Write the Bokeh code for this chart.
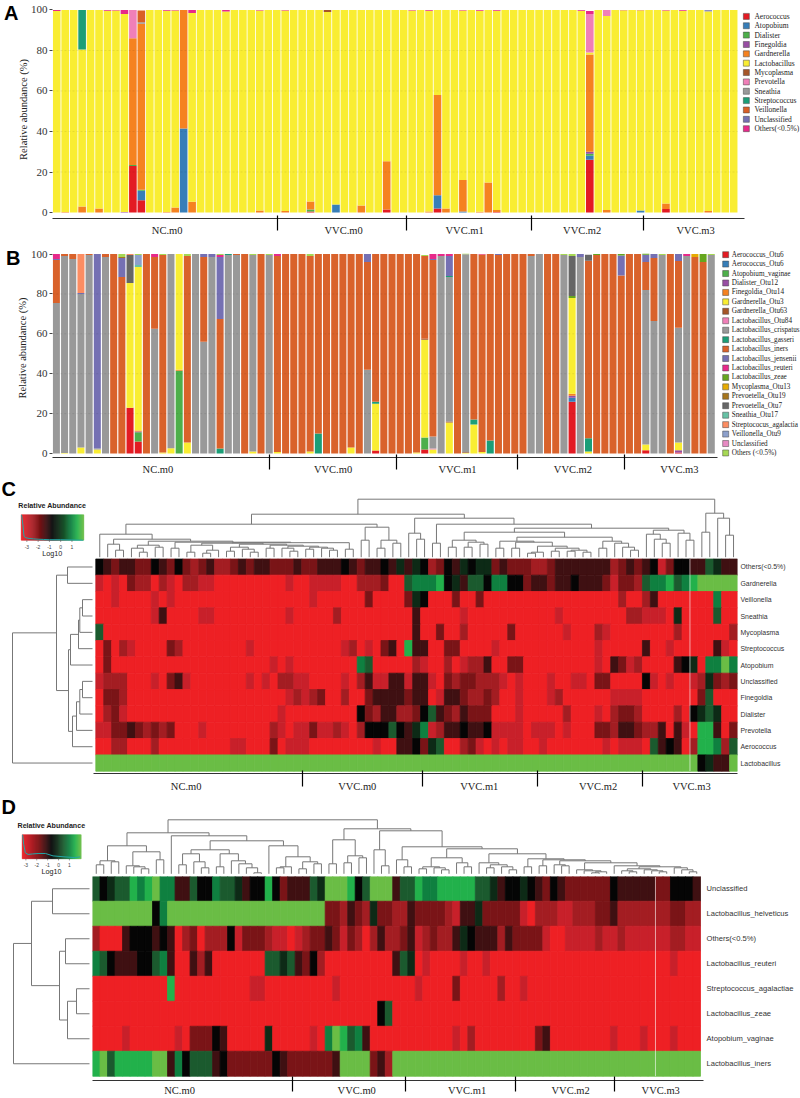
from bokeh.plotting import figure
from bokeh.layouts import column, row
from bokeh.models import (ColumnDataSource, FixedTicker, Label, LinearAxis, LinearColorMapper, Range1d)
from bokeh.core.properties import value
from bokeh.transform import transform
from bokeh.embed import file_html
from bokeh.resources import INLINE

N = 81
SERIF = "Liberation Serif"
SANS = "Liberation Sans"
groups = ["NC.m0", "VVC.m0", "VVC.m1", "VVC.m2", "VVC.m3"]
y_ticks = [0, 20, 40, 60, 80, 100]

# ---------- Panel A: genus level stacked bars (sparse: sample -> %)
a_names = ["Aerococcus", "Atopobium", "Dialister", "Finegoldia", "Gardnerella", "Lactobacillus", "Mycoplasma",
           "Prevotella", "Sneathia", "Streptococcus", "Veillonella", "Unclassified", "Others(<0.5%)"]
a_colors = ["#E31B23", "#377EB8", "#4DAF4A", "#984EA3", "#F58220", "#F9ED32", "#A65628", "#F07FB8", "#999999",
            "#1B9E77", "#D95F26", "#7570B3", "#E7298A"]
a_aerococcus = {9: 23, 10: 6, 30: .5, 39: 1.5, 45: 2, 52: .3, 63: 26, 72: 1.7}
a_atopobium = {10: 4.7, 15: 41.5, 33: 4, 45: 6.5, 48: .5, 63: 2, 69: 1}
a_dialister = {9: .4, 10: .5, 30: 1, 63: 1}
a_finegoldia = {8: .3, 63: 1}
a_gardnerella = {1: .3, 3: 3, 5: 2, 9: 62.6, 10: 82, 13: .3, 14: 2.5, 15: 58.5, 16: 5.3, 24: 1, 27: .8, 30: 4, 36: 3.5,
                 39: 23.8, 44: .5, 45: 49.5, 46: 2, 48: 15.5, 50: .4, 51: 14.8, 52: 1, 63: 48, 65: 1.3, 72: 2.8, 77: .8}
a_lactobacillus = [99.5, 99.7, 100, 77.5, 100, 98, 99.6, 99.7, 97.7, 0, 0, 100, 100, 99.3, 97.2, 0, 93.2, 100, 100, 100,
                   99.3, 100, 100, 100, 98.7, 100, 100, 98.9, 100, 100, 94.5, 100, 99, 96, 100, 100, 96.5, 100, 100, 74.7,
                   100, 100, 99.7, 100, 99.1, 42, 98, 100, 83.7, 100, 99.2, 85.2, 98.3, 100, 100, 100, 100, 100, 100, 100,
                   100, 100, 99.6, 1, 100, 95.7, 100, 99.8, 100, 98.8, 100, 100, 95.2, 100, 99.6, 100, 100, 98.4, 100, 100, 100]
a_mycoplasma = {32: 1}
a_prevotella = {9: 14, 63: 19, 65: 3}
a_sneathia = {10: .7, 77: .4}
a_streptococcus = {3: 19.5}
a_veillonella = {10: 5.8}
a_unclassified = {77: .4}
a_others = {0: .5, 6: .4, 7: .3, 8: 2, 13: .4, 14: .3, 16: 1.5, 20: .7, 24: .3, 27: .3, 42: .3, 44: .4, 48: .3, 50: .4,
            52: .4, 62: .4, 63: 1.5, 67: .2, 69: .2, 72: .3, 74: .4}

# ---------- Panel B: OTU level stacked bars
b_names = ["Aerococcus_Otu6", "Aerococcus_Otu6", "Atopobium_vaginae", "Dialister_Otu12", "Finegoldia_Otu14",
           "Gardnerella_Otu3", "Gardnerella_Otu63", "Lactobacillus_Otu84", "Lactobacillus_crispatus",
           "Lactobacillus_gasseri", "Lactobacillus_iners", "Lactobacillus_jensenii", "Lactobacillus_reuteri",
           "Lactobacillus_zeae", "Mycoplasma_Otu13", "Prevoetella_Otu19", "Prevoetella_Otu7", "Sneathia_Otu17",
           "Streptococus_agalactia", "Veillonella_Otu9", "Unclassified", "Others (<0.5%)"]
b_colors = ["#E31B23", "#377EB8", "#4DAF4A", "#984EA3", "#F58220", "#F9ED32", "#A65628", "#F07FB8", "#999999", "#1B9E77",
            "#D9622B", "#7570B3", "#E7298A", "#66A61E", "#E6AB02", "#A6761D", "#666666", "#66C2A5", "#FC8D62", "#8DA0CB",
            "#E78AC3", "#A6D854"]
b_aero1 = {9: 23, 10: 6, 39: 1.5, 45: 2, 63: 26, 72: 1.7, 76: .5}
b_aero2 = {63: 2}
b_atopobium = {10: 4.7, 15: 41.5, 45: 6}
b_dialister = {10: .3, 63: 1, 76: 1.2}
b_finegoldia = {10: .5, 15: .5, 63: 1}
b_gard3 = {1: .3, 3: 3, 5: 2, 9: 62.5, 10: 82, 13: .5, 14: 2.7, 15: 58, 16: 5.5, 24: 1, 27: .8, 31: 1, 36: 3, 39: 23.5,
           44: .5, 45: 49, 46: 2, 48: 15.5, 50: .3, 51: 14.5, 52: .8, 63: 48, 65: 1, 72: 2.8, 76: 3.8}
b_gard63 = {45: .5, 48: .5, 50: .4}
b_l84 = {46: .5}
b_crispatus = [75.5, 98.7, 97.5, 77, 99.5, .5, 98.5, 0, 0, 0, 0, 0, 62.5, 0, 97.3, 0, 0, 100, 56, 98.5, 0, 99.5, 99.5, 0,
               98.5, 0, 99.5, 0, 0, 0, 0, 0, 0, 0, 0, 0, 0, 0, 42, 0, 0, 0, 0, 0, 0, 0, 6, 99, 72.5, 0, 99.2, 0, 0, 0, 0, 0,
               0, 0, 99, 100, 0, 0, 99.5, 0, 98.5, 0, 0, 0, 0, 0, 0, 0, 77.5, 66.5, 99.5, 0, 57.5, 99, 0, 0, 99.5]
b_gasseri = {20: 2.5, 21: .5, 32: 10, 39: 1, 48: .5, 51: 2.5, 53: 6.5, 65: 6.7}
b_iners = [21.5, 1, 2.5, 0, .5, 0, 1.5, 100, 88.5, 0, 0, 100, 36, 99, 0, 0, 93.5, 0, 42.5, 0, 65, 0, .5, 100, 0, 100, 0,
           98.2, 100, 100, 100, 98, 90, 100, 100, 100, 97, 100, 54, 74, 100, 100, 100, 100, 99.5, 41.5, 88.5, 0, 0, 100,
           0, 83, 99, 93.5, 99.5, 100, 100, 100, 1, 0, 100, 100, 0, 0, 0, 89, 99.5, 100, 100, 89.3, 100, 100, 14, 31.5,
           0, 100, 33.5, 0, 98.5, 96, 0]
b_jensenii = {0: .5, 3: .5, 5: 97.5, 8: 9.5, 18: 1.5, 19: 1.5, 20: 31, 38: 4, 46: .5, 48: 10, 54: .5, 64: 1.5, 69: 10,
              72: 3.7, 73: 2, 76: 3.5}
b_reuteri = {0: 2.5, 12: 1.5, 20: 1, 27: 1, 46: 2.5, 47: 1, 48: 1, 52: .2, 77: 1}
b_zeae = {63: 1, 66: .5, 69: .7, 72: .5, 79: 4}
b_myco = {78: 1.5}
b_prev19 = {8: .5}
b_prev7 = {9: 14, 63: 20, 65: 3}
b_sneathia = {10: 1}
b_strep = {3: 19.5, 9: .5}
b_veillonella = {10: 5}
b_unclass = {}
b_others = {8: 1.5, 10: .5, 13: .5, 16: 1, 20: .5, 24: .5, 26: .5, 31: 1, 45: .5, 50: .3, 62: .5, 63: 1, 74: .5, 80: .5}

# ---------- Panel C heat map: colour levels 0 (red) .. 5 (black) .. 10 (green); sparse, sample -> level
level_colors = ["#EE2024", "#C8202A", "#A31D22", "#7A1417", "#3F1012", "#050505", "#0D2A16", "#1B5A2E", "#0F8040",
                "#22B14B", "#6ABD45"]
c_rows = ["Others(<0.5%)", "Gardnerella", "Veillonella", "Sneathia", "Mycoplasma", "Streptococcus", "Atopobium",
          "Unclassified", "Finegoldia", "Dialister", "Prevotella", "Aerococcus", "Lactobacillus"]
c_others = [5, 4, 3, 4, 4, 3, 3, 5, 4, 3, 5, 3, 2, 3, 4, 2, 2, 3, 4, 3, 4, 4, 3, 3, 3, 4, 3, 3, 4, 4, 4, 5, 4, 3, 4, 4, 5, 4, 6,
            4, 6, 5, 2, 3, 5, 4, 6, 5, 6, 6, 3, 4, 3, 3, 3, 2, 2, 3, 4, 4, 4, 4, 4, 4, 4, 2, 3, 4, 3, 4, 5, 1, 3, 5, 5, 4, 4, 7, 6, 4, 4]
c_gardnerella = [1, 0, 1, 0, 3, 2, 2, 0, 2, 1, 0, 2, 2, 1, 1, 0, 0, 0, 0, 0, 0, 0, 0, 0, 1, 0, 0, 1, 1, 1, 1, 0, 0, 2, 2, 2, 3, 0, 0,
                 7, 8, 8, 8, 9, 5, 6, 4, 7, 7, 5, 8, 8, 5, 5, 3, 4, 4, 3, 4, 4, 5, 4, 4, 4, 3, 1, 3, 3, 2, 7, 8, 8, 9, 7, 8, 9, 10, 10, 10, 10, 10]
c_veillonella = {2: 1, 7: 1, 9: 1, 27: 1, 34: 3, 39: 3, 40: 6, 41: 5, 45: 3, 48: 3, 66: 2, 69: 2, 70: 4, 78: 8}
c_sneathia = {7: 1, 8: 4, 13: 1, 14: 1, 24: 1, 30: 2, 40: 4, 46: 1, 58: 1, 67: 2, 68: 2, 69: 1, 70: 1, 71: 1, 73: 6, 78: 7}
c_mycoplasma = {0: 7, 40: 4, 43: 3, 46: 2, 52: 3, 59: 1, 63: 2, 64: 1, 73: 2, 80: 2}
c_streptococcus = {1: 3, 3: 2, 4: 1, 9: 3, 10: 2, 19: 1, 31: 1, 32: 2, 34: 1, 36: 3, 37: 4, 39: 9, 40: 4, 41: 4, 44: 3, 45: 3,
                   50: 1, 63: 1, 69: 4, 72: 1, 78: 4, 79: 1}
c_atopobium = {1: 3, 22: 1, 24: 1, 33: 8, 34: 7, 40: 2, 41: 1, 44: 2, 46: 1, 47: 2, 48: 2, 49: 4, 52: 3, 53: 3, 63: 1, 65: 4,
               66: 3, 67: 1, 68: 2, 73: 4, 74: 5, 75: 6, 77: 8, 78: 8, 79: 10, 80: 8}
c_unclassified = {0: 1, 1: 2, 2: 2, 3: 2, 7: 1, 9: 3, 10: 4, 11: 1, 19: 1, 21: 1, 23: 2, 24: 2, 25: 1, 26: 1, 31: 1, 33: 2,
                  34: 4, 35: 1, 36: 1, 37: 4, 38: 4, 39: 1, 40: 4, 41: 4, 42: 1, 44: 3, 45: 2, 46: 3, 47: 3, 48: 2, 49: 2,
                  50: 2, 51: 1, 53: 1, 57: 1, 60: 1, 61: 1, 63: 3, 64: 3, 69: 5, 70: 1, 72: 1, 75: 1, 76: 2, 77: 6, 78: 3,
                  79: 2, 80: 3}
c_finegoldia = {1: 3, 2: 3, 3: 2, 24: 1, 25: 2, 26: 1, 27: 2, 28: 3, 31: 2, 34: 3, 35: 4, 36: 4, 37: 4, 38: 4, 39: 3, 40: 4,
                41: 4, 43: 1, 44: 4, 45: 4, 46: 3, 47: 2, 48: 2, 49: 3, 50: 2, 53: 1, 57: 1, 58: 2, 65: 1, 66: 1, 67: 1,
                68: 1, 76: 3, 77: 7}
c_dialister = {1: 2, 2: 3, 3: 1, 23: 1, 33: 5, 34: 3, 35: 2, 36: 4, 37: 4, 38: 2, 39: 2, 40: 3, 41: 5, 42: 7, 43: 4, 44: 3,
               45: 2, 46: 4, 47: 3, 48: 3, 49: 3, 53: 1, 59: 2, 63: 1, 65: 2, 66: 3, 67: 3, 68: 2, 73: 2, 75: 5, 76: 6,
               77: 7, 78: 6}
c_prevotella = {0: 1, 1: 1, 2: 3, 3: 3, 4: 4, 5: 3, 6: 2, 7: 3, 8: 2, 9: 3, 13: 1, 22: 2, 23: 1, 25: 1, 26: 1, 27: 3, 28: 1,
                29: 1, 30: 2, 31: 1, 33: 2, 34: 5, 35: 5, 36: 5, 37: 7, 38: 5, 39: 4, 40: 6, 41: 8, 42: 1, 43: 2, 44: 4,
                45: 4, 46: 5, 47: 4, 48: 4, 49: 5, 50: 1, 51: 1, 52: 1, 53: 1, 55: 1, 56: 1, 57: 1, 59: 1, 63: 3, 64: 3,
                65: 2, 66: 4, 67: 4, 68: 3, 69: 2, 70: 2, 71: 4, 73: 4, 74: 1, 76: 9, 77: 9, 78: 4, 80: 3}
c_aerococcus = {2: 2, 3: 2, 7: 2, 17: 1, 18: 1, 22: 3, 24: 1, 25: 1, 26: 1, 35: 1, 38: 4, 39: 4, 40: 5, 41: 3, 42: 6, 43: 7,
                46: 2, 47: 3, 48: 1, 50: 1, 52: 1, 53: 1, 56: 1, 64: 1, 66: 1, 67: 1, 68: 1, 70: 7, 71: 4, 72: 5, 73: 4,
                75: 2, 76: 9, 77: 9, 78: 8, 79: 2, 80: 7}
c_lactobacillus = [10] * 76 + [5, 6, 4, 4, 10]

# ---------- Panel D heat map
d_rows = ["Unclassified", "Lactobacillus_helveticus", "Others(<0.5%)", "Lactobacillus_reuteri", "Streptococcus_agalactiae",
          "Lactobacillus_zeae", "Atopobium_vaginae", "Lactobacillus_iners"]
d_unclassified = [7, 5, 6, 7, 7, 9, 8, 9, 10, 8, 8, 4, 4, 7, 5, 5, 8, 7, 7, 6, 4, 5, 5, 9, 5, 3, 4, 4, 4, 7, 6, 10, 10, 10, 9, 5, 7,
                  10, 10, 10, 4, 7, 7, 9, 8, 8, 9, 9, 9, 9, 9, 7, 7, 6, 4, 5, 5, 6, 5, 4, 3, 5, 4, 3, 3, 3, 3, 3, 3, 5, 4, 4, 4,
                  4, 4, 3, 3, 5, 5, 5, 4]
d_helveticus = [10, 10, 10, 10, 10, 10, 10, 10, 5, 8, 10, 10, 10, 10, 10, 10, 10, 10, 10, 10, 10, 10, 10, 10, 10, 10, 10, 10, 10,
                10, 10, 3, 3, 2, 4, 3, 2, 6, 3, 3, 2, 2, 4, 3, 3, 3, 3, 2, 1, 4, 4, 6, 3, 3, 3, 3, 3, 1, 0, 2, 2, 2, 1, 1, 2, 2,
                2, 3, 3, 4, 2, 2, 2, 2, 2, 2, 2, 3, 3, 2, 2]
d_others = [2, 0, 0, 0, 4, 5, 5, 5, 4, 5, 4, 0, 2, 3, 0, 2, 2, 2, 5, 1, 3, 3, 3, 2, 1, 1, 0, 1, 2, 3, 3, 4, 3, 1, 3, 2, 0, 2, 4, 2, 2,
            3, 4, 1, 2, 3, 2, 2, 4, 6, 5, 4, 4, 4, 2, 4, 3, 3, 3, 3, 1, 0, 0, 1, 1, 1, 1, 2, 1, 1, 2, 1, 1, 1, 1, 1, 1, 2, 2, 1, 1]
d_reuteri = {0: 8, 1: 7, 2: 5, 3: 4, 4: 4, 5: 4, 6: 5, 7: 5, 8: 7, 9: 8, 10: 4, 13: 4, 14: 2, 15: 4, 23: 7, 24: 7, 25: 6, 26: 7,
             27: 4, 28: 3, 29: 5, 30: 2, 40: 4, 41: 7, 42: 6, 44: 1, 49: 1, 52: 1, 77: 1}
d_agalactiae = {10: 9, 21: 1, 22: 1, 32: 1, 43: 1, 48: 3, 54: 2, 57: 1}
d_zeae = {38: 5, 39: 7}
d_vaginae = {4: 1, 11: 1, 13: 3, 14: 3, 15: 3, 16: 5, 17: 4, 23: 6, 29: 1, 31: 8, 32: 10, 33: 9, 34: 7, 35: 8, 36: 4, 48: 1,
             50: 2, 59: 3, 60: 4, 69: 1, 73: 1, 77: 1}
d_iners = [9, 10, 7, 9, 9, 9, 9, 9, 10, 10, 4, 8, 5, 7, 7, 7, 4, 5, 3, 3, 3, 3, 3, 3, 5, 4, 3, 3, 3, 3, 3, 3, 4, 10, 10, 10, 10, 3, 4,
           2, 10, 10, 10, 10, 10, 10, 10, 10, 10, 10, 10, 10, 10, 10, 10, 10, 10, 10, 10, 10, 10, 10, 10, 10, 10, 10, 10, 10, 10,
           10, 10, 10, 10, 10, 10, 10, 10, 10, 10, 10, 10]

# ---------- Dendrograms: [height, left, right]; 0 is a leaf
c_rest = [14.5, [14, [12, [5, 0, 0], [7, [4, 0, 0], 0]],
                 [13, [10, [6, 0, 0], [8, 0, [5, 0, 0]]],
                  [12, [9, 0, 0], [11, [9, 0, [6, 0, 0]], [10, [8, 0, 0], [9, 0, [7, 0, 0]]]]]]], [8, 0, 0]]
c_s = [16, [12, [9, 0, [5, 0, 0]], [10, 0, 0]], [15, [9, 0, 0], c_rest]]
c_a = [33, [23, 0, [18, [13, 0, [7, 0, 0]], c_s]], [30, [17, 0, 0], [17, [9, 0, 0], [14, 0, 0]]]]
c_b4 = [25, [17, [10, 0, 0], [15, [10, 0, 0], [13, 0, 0]]],
        [20, [16, [9, 0, 0], [15, [9, 0, 0], [11, [5, [4, 0, 0], 0], [9, [6, 0, 0], [7, [6, 0, 0], [5, 0, 0]]]]]],
         [16, [9, 0, 0], [14, 0, [10, 0, [7, 0, 0]]]]]]
c_b5 = [27, [23, 0, [18, 0, [14, 0, 0]]], [24, 0, [17, 0, 0]]]
c_b = [39, [24, 0, [18, 0, 0]], [33, [14, 0, 0], [29, c_b4, c_b5]]]
c_top_tree = [58, [43, c_a, c_b], [44, [25, 0, 0], [39, 0, [22, 0, 0]]]]
c_left_tree = [80, [36, [25, 0, 0], [24, [22, [14, [12.7, [10, 0, 0], 0], 0], 0], [20, [16, [12.7, [10, 0, 0], 0], 0], 0]]], 0]

d_a2 = [16, [7, [5, 0, 0], [6, 0, [4, 0, 0]]], [11, 0, [7, 0, 0]]]
d_z = [7, [5, [3, 0, [2, 0, 0]], [4, 0, [3, 0, [2, 0, 0]]]], [6, 0, [4, 0, [2, 0, 0]]]]
d_b2 = [20, [11, 0, [9, [6, 0, 0], [7, 0, [4, 0, 0]]]],
        [15, [7, 0, 0], [14, [8, 0, 0], [13, [9, 0, [8, 0, 0]], [11, [4, 0, [3, 0, [2, [1, 0, 0], 0]]], [8, 0, d_z]]]]]]
d_l = [41, [28, [13, [9, 0, 0], [12, 0, 0]], [22, [8, 0, [7, 0, [5, 0, 0]]], [14, 0, 0]]],
       [38, 0, [33, [24, [20, [9, 0, 0], [12, 0, [6, 0, 0]]], [20, [7, 0, 0], [13, 0, [10, 0, [6, 0, [1, 0, 0]]]]]],
                [28, 0, [17, [7, [6, 0, 0], 0], [12, [5, 0, 0], [10, 0, 0]]]]]]]
d_r = [45, [34, [10, 0, 0], [18, [11, 0, 0], [16, 0, 0]]],
       [43, [24, 0, [8, 0, 0]], [27, [14, 0, [7, 0, 0]], [25, d_a2, d_b2]]]]
d_top_tree = [54, d_l, d_r]
d_left_tree = [76, [58, [37, 0, 0], [30, [24, 0, 0], [22, [13, 0, 0], 0]]], 0]

# colour-key density curves (log10, density)
c_key_x = [-3.47, -3.35, -3.25, -3.1, -2.8, -2.4, -2, -1.5, -1, 0, 1, 2]
c_key_d = [1, .6, .15, .1, .07, .05, .04, .03, .02, .02, .01, 0]
d_key_x = [-3.3, -3.2, -3.05, -2.8, -2.4, -1.8, -1.2, -.5, .5, 1.5, 2]
d_key_d = [1, .6, .25, .18, .2, .22, .22, .12, .08, .05, .08]


def dense(d, bg=0):
    return [d.get(i, bg) for i in range(N)] if isinstance(d, dict) else list(d)


def dendro(tree):
    state = [0]
    ps, hs = [], []

    def walk(n):
        if not isinstance(n, list):
            state[0] += 1
            return state[0] - 1, 0
        pa, ha = walk(n[1])
        pb, hb = walk(n[2])
        ps.append([pa, pa, pb, pb])
        hs.append([ha, n[0], n[0], hb])
        return (pa + pb) / 2, n[0]

    walk(tree)
    return ps, hs


def group_axis(p, centers, bounds, line_bounds=None, standoff=-6, t_in=3, t_out=12):
    ax = LinearAxis(ticker=FixedTicker(ticks=centers, minor_ticks=bounds),
                    major_label_overrides={c: g for c, g in zip(centers, groups)},
                    major_tick_in=0, major_tick_out=0, minor_tick_in=t_in, minor_tick_out=t_out,
                    minor_tick_line_color="#000000", minor_tick_line_width=1.2, axis_line_color="#333333",
                    major_label_text_font=SERIF, major_label_text_font_size="10.5px",
                    major_label_text_color="#222222", major_label_standoff=standoff)
    if line_bounds:
        ax.bounds = line_bounds
    p.add_layout(ax, "below")


def bar_panel(names, colors, series, w, h, left, border_bottom, y_rng, x_rng, width, centers, bounds, line_end, leg_rng,
              leg_x, leg_tx, label_fs, ytitle_standoff, let, let_pos, let_standoff):
    p = figure(width=w, height=h, x_range=Range1d(*x_rng), y_range=Range1d(*y_rng), x_axis_type=None, y_axis_type=None,
               toolbar_location=None, output_backend="svg", min_border=0, min_border_left=left,
               min_border_bottom=border_bottom, outline_line_color=None)
    keys = [f"s{i}" for i in range(len(names))]
    data = {"x": list(range(N))}
    for k, s in zip(keys, series):
        data[k] = dense(s)
    p.vbar_stack(keys, x="x", width=width, color=colors, line_color=None, source=ColumnDataSource(data))
    p.segment(x0=[-.5] * 4, x1=[N - .5] * 4, y0=y_ticks[1:5], y1=y_ticks[1:5], line_color="#000000", line_alpha=.08,
              line_dash="2 2", line_width=1)
    ya = LinearAxis(ticker=FixedTicker(ticks=y_ticks), axis_label="Relative abundance (%)", axis_line_color=None,
                    major_tick_out=3, major_tick_in=0, major_tick_line_color="#444444", minor_tick_line_color=None,
                    major_label_text_font=SERIF, major_label_text_font_size="11px", major_label_text_color="#333333",
                    major_label_standoff=2, axis_label_text_font=SERIF, axis_label_text_font_size="10.5px",
                    axis_label_text_font_style="normal", axis_label_text_color="#222222",
                    axis_label_standoff=ytitle_standoff)
    p.add_layout(ya, "left")
    la = LinearAxis(ticker=FixedTicker(ticks=[let_pos]), major_label_overrides={let_pos: let}, axis_line_color=None,
                    major_tick_in=0, major_tick_out=0, minor_tick_in=0, minor_tick_out=0, major_tick_line_color=None,
                    minor_tick_line_color=None, major_label_standoff=let_standoff, major_label_text_font=SANS,
                    major_label_text_font_style="bold", major_label_text_font_size="20px",
                    major_label_text_color="#000000")
    p.add_layout(la, "left")
    group_axis(p, centers, bounds, line_bounds=(x_rng[0], line_end))
    p.extra_y_ranges = {"legend": Range1d(*leg_rng)}
    idx = list(range(len(names)))
    p.rect(x=[leg_x] * len(idx), y=idx, width=6, height=6, width_units="screen", height_units="screen", fill_color=colors,
           line_color="#444444", line_width=.5, y_range_name="legend")
    p.text(x=[leg_tx] * len(idx), y=idx, text=names, text_font=value(SERIF), text_font_size=label_fs, text_baseline="middle",
           text_align="left", text_color="#222222", y_range_name="legend")
    return p


def key_fig(w, h, xr, yr, lo, hi, curve_x, curve_d, title_x, title_y, tick_y, log_y, let, let_y):
    p = figure(width=w, height=h, x_range=Range1d(*xr), y_range=Range1d(*yr), x_axis_type=None, y_axis_type=None,
               toolbar_location=None, output_backend="svg", min_border=0, outline_line_color=None)
    steps = 60
    edges = [lo + (hi - lo) * i / steps for i in range(steps + 1)]
    xc = [(a + b) / 2 for a, b in zip(edges, edges[1:])]
    lv = [(x - lo) / (hi - lo) * 10 for x in xc]
    rgb = [tuple(int(c[i:i + 2], 16) for i in (1, 3, 5)) for c in level_colors]
    cols = []
    for v in lv:
        k = min(int(v), 9)
        f = v - k
        cols.append("#%02x%02x%02x" % tuple(int(rgb[k][j] * (1 - f) + rgb[k + 1][j] * f) for j in range(3)))
    p.rect(x=xc, y=[.5] * steps, width=(hi - lo) / steps, height=1, fill_color=cols, line_color=cols, line_width=.5)
    p.line(curve_x, curve_d, line_color="#22A7A7", line_width=1)
    ticks = [-3, -2, -1, 0, 1]
    p.segment(x0=ticks, x1=ticks, y0=[0] * 5, y1=[-.07] * 5, line_color="#555555", line_width=.6)
    p.text(x=ticks, y=[tick_y] * 5, text=[str(t) for t in ticks], text_font=value(SANS), text_font_size="5px",
           text_align="center", text_baseline="middle", text_color="#444444")
    p.text(x=[title_x], y=[title_y], text=["Relative Abundance"], text_font=value(SANS), text_font_style="bold",
           text_font_size="7.1px", text_align="center", text_baseline="middle", text_color="#222222")
    p.text(x=[title_x], y=[log_y], text=["Log10"], text_font=value(SANS), text_font_size="7.2px", text_align="center",
           text_baseline="middle", text_color="#222222")
    p.add_layout(Label(x=1, y=let_y, x_units="screen", y_units="screen", text=let, text_font=SANS,
                       text_font_style="bold", text_font_size="20px", text_color="#000000"))
    return p


def heat_panel(rows, series, bgs, top_tree, left_tree, row_h, top_h, left_w, top_w, border_right, border_bottom, x_rng, y_rng,
               top_rng, left_rng, centers, bounds, label_fs, standoff, t_in, t_out, white_x, key):
    nrow = len(rows)
    xr = Range1d(*x_rng)
    yr = Range1d(*y_rng)
    xs, ys, lv = [], [], []
    for r, (s, bg) in enumerate(zip(series, bgs)):
        for c, v in enumerate(dense(s, bg)):
            xs.append(c)
            ys.append(nrow - 1 - r)
            lv.append(v)
    mapper = LinearColorMapper(palette=level_colors, low=-.5, high=10.5)
    hm = figure(width=top_w, height=row_h, x_range=xr, y_range=yr, x_axis_type=None, y_axis_type=None,
                toolbar_location=None, output_backend="svg", min_border=0, min_border_right=border_right,
                min_border_bottom=border_bottom, outline_line_color=None)
    src = ColumnDataSource(dict(x=xs, y=ys, level=lv))
    hm.rect("x", "y", width=1, height=1, source=src, fill_color=transform("level", mapper),
            line_color=transform("level", mapper), line_width=.8)
    hm.segment(x0=[white_x], x1=[white_x], y0=[-.5], y1=[nrow - .5], line_color="#ffffff", line_alpha=.6, line_width=1)
    ra = LinearAxis(ticker=FixedTicker(ticks=list(range(nrow))),
                    major_label_overrides={nrow - 1 - i: n for i, n in enumerate(rows)}, axis_line_color=None,
                    major_tick_in=0, major_tick_out=0, minor_tick_in=0, minor_tick_out=0,
                    major_tick_line_color=None, minor_tick_line_color=None, major_label_standoff=3,
                    major_label_text_font=SANS, major_label_text_font_size=label_fs, major_label_text_color="#333333")
    hm.add_layout(ra, "right")
    group_axis(hm, centers, bounds, standoff=standoff, t_in=t_in, t_out=t_out)

    tp = figure(width=top_w, height=top_h, x_range=xr, y_range=Range1d(*top_rng), x_axis_type=None, y_axis_type=None,
                toolbar_location=None, output_backend="svg", min_border=0, min_border_right=border_right,
                outline_line_color=None)
    ps, hs = dendro(top_tree)
    tp.multi_line(ps, hs, line_color="#777777", line_width=1)

    lf = figure(width=left_w, height=row_h, x_range=Range1d(*left_rng), y_range=yr, x_axis_type=None, y_axis_type=None,
                toolbar_location=None, output_backend="svg", min_border=0, min_border_bottom=border_bottom,
                outline_line_color=None)
    ps, hs = dendro(left_tree)
    lf.multi_line(hs, [[nrow - 1 - q for q in path] for path in ps], line_color="#777777", line_width=1)
    return column(row(key, tp, spacing=0), row(lf, hm, spacing=0), spacing=0)


# ---------- build
a_series = [a_aerococcus, a_atopobium, a_dialister, a_finegoldia, a_gardnerella, a_lactobacillus, a_mycoplasma, a_prevotella,
            a_sneathia, a_streptococcus, a_veillonella, a_unclassified, a_others]
b_series = [b_aero1, b_aero2, b_atopobium, b_dialister, b_finegoldia, b_gard3, b_gard63, b_l84, b_crispatus, b_gasseri,
            b_iners, b_jensenii, b_reuteri, b_zeae, b_myco, b_prev19, b_prev7, b_sneathia, b_strep, b_veillonella, b_unclass,
            b_others]

pA = bar_panel(a_names, a_colors, a_series, 800, 238, 52, 19, (-2.95, 104.67), (-.5, 87.9), .9,
               [13.05, 33.9, 48.2, 62.1, 75.5], [26.09, 41.33, 56.07, 69.35], 81.3,
               (21.6, -1.70), 81.5, 82.45, "7.5px", -1, "A", 100.2, -4)
pB = bar_panel(b_names, b_colors, b_series, 800, 239, 49, 18, (-1.99, 107.8), (-.474, 90.9), .86,
               [12.4, 33.8, 49, 63.1, 76.1], [26.05, 41.5, 56.3, 69.4], 80.8,
               (21.48, -1.71), 81.76, 82.5, "7.2px", 0, "B", 97.9, -7)

c_key = key_fig(93, 81, (-5.337, 2.91), (-.72, 2.47), -3.5, 2.05, c_key_x, c_key_d, -.75, 1.35, -.27, -.52, "C", 59)
d_key = key_fig(92, 82, (-5.33, 3.12), (-.74, 2.68), -3.34, 2.08, d_key_x, d_key_d, -.65, 1.35, -.24, -.55, "D", 59)

c_series = [c_others, c_gardnerella, c_veillonella, c_sneathia, c_mycoplasma, c_streptococcus, c_atopobium, c_unclassified,
            c_finegoldia, c_dialister, c_prevotella, c_aerococcus, c_lactobacillus]
pC = heat_panel(c_rows, c_series, [0] * 13, c_top_tree, c_left_tree, 236, 81, 93, 707, 63, 21, (-.79, 80.5), (-.64, 12.52),
                (-1.3, 79.7), (92, -1), [10.9, 32.5, 47.9, 62.9, 74.7], [25.57, 40.73, 55.3, 68.56], "6.9px", -6, 3, 13,
                74.5, c_key)
d_series = [d_unclassified, d_helveticus, d_others, d_reuteri, d_agalactiae, d_zeae, d_vaginae, d_iners]
pD = heat_panel(d_rows, d_series, [0] * 8, d_top_tree, d_left_tree, 222, 82, 92, 708, 97, 17, (-.5, 80.9), (-.67, 7.49),
                (-2.7, 79.3), (89, -3), [11.1, 34.7, 49.4, 63.2, 75.2], [26.1, 41.2, 55.8, 69], "7.6px", -7, 4, 11,
                74.5, d_key)

page = column(pA, pB, pC, pD, spacing=0)
open("out.html", "w").write(file_html(page, INLINE))
